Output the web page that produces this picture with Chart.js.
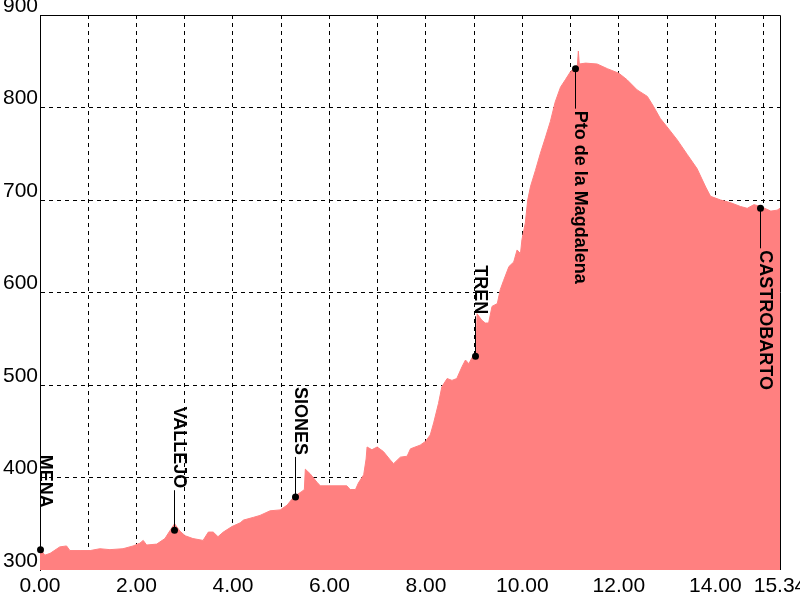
<!DOCTYPE html>
<html>
<head>
<meta charset="utf-8">
<script src="https://cdn.jsdelivr.net/npm/chart.js@4.4.1/dist/chart.umd.min.js"></script>
<style>
  body { margin: 0; background: #fff; }
</style>
</head>
<body>
<canvas id="profile" width="800" height="600"></canvas>
<script>
// distance (km) and elevation (m) of the profile
const distKm = [0.00, 0.10, 0.21, 0.41, 0.55, 0.62, 0.83, 1.04, 1.24, 1.45, 1.72, 1.93, 2.07, 2.14, 2.21, 2.42, 2.59, 2.70, 2.79, 2.90,
  3.01, 3.17, 3.38, 3.49, 3.59, 3.69, 3.80, 3.98, 4.15, 4.22, 4.43, 4.56, 4.77, 4.98, 5.12, 5.26, 5.43, 5.48, 5.50, 5.60,
  5.74, 5.81, 6.36, 6.43, 6.54, 6.60, 6.71, 6.76, 6.78, 6.88, 6.99, 7.12, 7.26, 7.33, 7.47, 7.61, 7.68, 7.88, 7.99, 8.09,
  8.16, 8.26, 8.33, 8.44, 8.54, 8.64, 8.75, 8.82, 8.89, 8.96, 9.04, 9.06, 9.16, 9.23, 9.30, 9.37, 9.48, 9.54, 9.61, 9.72,
  9.82, 9.89, 9.96, 9.99, 10.06, 10.11, 10.17, 10.27, 10.37, 10.48, 10.58, 10.68, 10.79, 10.89, 11.00, 11.10, 11.14, 11.16, 11.18, 11.31,
  11.55, 11.76, 12.00, 12.17, 12.38, 12.59, 12.72, 12.86, 13.00, 13.21, 13.42, 13.62, 13.80, 13.90, 14.11, 14.32, 14.52, 14.66, 14.80, 14.94,
  15.15, 15.28, 15.34];
const elevM = [323, 316, 318, 325, 326, 321, 321, 321, 323, 322, 323, 326, 329, 332, 327, 328, 334, 343, 350, 342,
  337, 334, 332, 341, 341, 336, 341, 347, 351, 354, 357, 359, 364, 365, 370, 379, 385, 387, 409, 404,
  395, 391, 391, 387, 387, 394, 403, 420, 433, 430, 433, 428, 419, 415, 422, 423, 431, 435, 439, 446,
  459, 480, 498, 507, 505, 507, 520, 527, 523, 530, 534, 577, 570, 567, 567, 585, 588, 603, 613, 628,
  633, 646, 642, 657, 675, 700, 715, 732, 750, 768, 785, 806, 822, 830, 839, 844, 846, 861, 847, 848,
  847, 842, 837, 830, 819, 812, 801, 788, 779, 765, 749, 734, 714, 704, 700, 697, 693, 691, 695, 693,
  688, 689, 691];

// waypoints
const wpNames = ['MENA', 'VALLEJO', 'SIONES', 'TREN', 'Pto de la Magdalena', 'CASTROBARTO'];
const wpKm = [0, 2.77, 5.28, 9.01, 11.10, 14.92];
const wpElev = [322, 343, 379, 531, 842, 691];
const wpSide = ['up', 'up', 'up', 'up', 'down', 'down'];

// axis ticks
const xTicks = [0, 1, 2, 3, 4, 5, 6, 7, 8, 9, 10, 11, 12, 13, 14, 15, 15.34];
const xLabelled = [0, 2, 4, 6, 8, 10, 12, 14, 15.34];
const yMin = 300, yMax = 900, yStep = 100;

const fillColor = '#ff8080';
const tickFont = { family: '"Liberation Sans", Arial, sans-serif', size: 21 };

// marco superior y derecho (debajo del relleno)
const framePlugin = {
    id: 'frame',
    beforeDatasetsDraw(chart) {
        const { ctx, chartArea: a } = chart;
        ctx.save();
        ctx.strokeStyle = '#000';
        ctx.lineWidth = 1;
        ctx.beginPath();
        ctx.moveTo(a.left, a.top + 0.5);
        ctx.lineTo(a.right + 0.5, a.top + 0.5);
        ctx.lineTo(a.right + 0.5, a.bottom);
        ctx.stroke();
        ctx.restore();
    }
};

// etiquetas verticales de los puntos de paso
const waypointPlugin = {
    id: 'waypoints',
    afterDraw(chart) {
        const { ctx } = chart;
        const xs = chart.scales.x, ys = chart.scales.y;
        ctx.save();
        ctx.font = 'bold 18px "Liberation Sans", Arial, sans-serif';
        ctx.fillStyle = '#000';
        ctx.strokeStyle = '#000';
        ctx.lineWidth = 1;
        wpNames.forEach((name, i) => {
            const px = Math.round(xs.getPixelForValue(wpKm[i])) + 0.5;
            const py = ys.getPixelForValue(wpElev[i]);
            const dir = wpSide[i] === 'up' ? -1 : 1;
            ctx.beginPath();
            ctx.moveTo(px, py);
            ctx.lineTo(px, py + dir * 40);
            ctx.stroke();
            ctx.beginPath();
            ctx.arc(px, py, 3.5, 0, Math.PI * 2);
            ctx.fill();
            ctx.save();
            ctx.translate(px - 0.5, py + dir * 42);
            ctx.rotate(Math.PI / 2);
            ctx.textAlign = dir < 0 ? 'right' : 'left';
            ctx.textBaseline = 'alphabetic';
            ctx.fillText(name, 0, 0);
            ctx.restore();
        });
        ctx.restore();
    }
};

window.onload = function() {
    const ctx = document.getElementById('profile').getContext('2d');
    new Chart(ctx, {
        type: 'line',
        data: {
            datasets: [{
                label: 'Perfil',
                data: distKm.map((d, i) => ({ x: d, y: elevM[i] })),
                backgroundColor: fillColor,
                borderColor: fillColor,
                borderWidth: 1,
                pointRadius: 0,
                tension: 0,
                fill: 'start'
            }]
        },
        options: {
            responsive: false,
            animation: false,
            devicePixelRatio: 1,
            layout: { padding: { top: 15, right: 20, left: 0, bottom: 0 } },
            plugins: {
                legend: { display: false },
                tooltip: { enabled: false }
            },
            scales: {
                x: {
                    type: 'linear',
                    min: 0,
                    max: 15.34,
                    z: 1,
                    afterBuildTicks(scale) {
                        scale.ticks = xTicks.map(v => ({ value: v }));
                    },
                    afterFit(scale) {
                        scale.height = 30;
                        scale.paddingLeft = 0;
                        scale.paddingRight = 0;
                    },
                    ticks: {
                        autoSkip: false,
                        maxRotation: 0,
                        color: '#000',
                        font: tickFont,
                        padding: 4,
                        callback: v => xLabelled.includes(v) ? v.toFixed(2) : ''
                    },
                    grid: {
                        drawTicks: false,
                        lineWidth: 1,
                        color: c => (c.tick && c.tick.value === 15.34) ? 'rgba(0,0,0,0)' : '#000'
                    },
                    border: { display: false, dash: [4, 4] }
                },
                y: {
                    min: yMin,
                    max: yMax,
                    z: 1,
                    afterFit(scale) {
                        scale.width = 40;
                        scale.paddingTop = 0;
                        scale.paddingBottom = 0;
                    },
                    ticks: {
                        stepSize: yStep,
                        color: '#000',
                        font: tickFont,
                        padding: 2,
                        labelOffset: -9
                    },
                    grid: {
                        drawTicks: false,
                        lineWidth: 1,
                        color: c => (c.tick && c.tick.value === yMin) ? 'rgba(0,0,0,0)' : '#000'
                    },
                    border: { display: true, color: '#000', width: 1, dash: [4, 4] }
                }
            }
        },
        plugins: [framePlugin, waypointPlugin]
    });
};
</script>
</body>
</html>
